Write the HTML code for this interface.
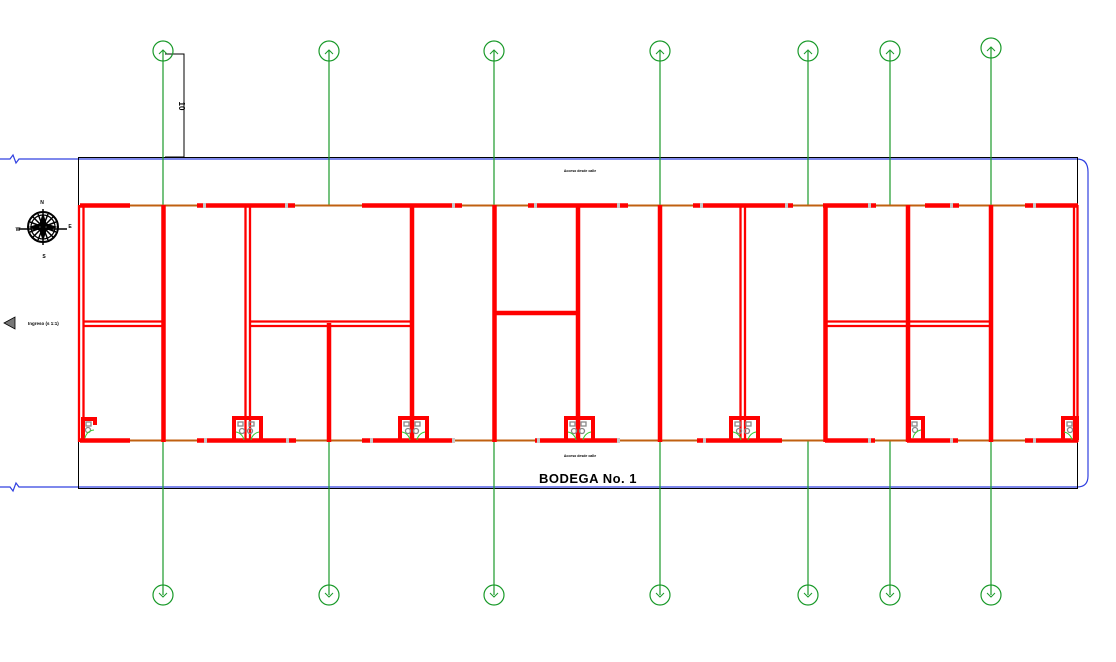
<!DOCTYPE html>
<html><head><meta charset="utf-8"><style>html,body{margin:0;padding:0;background:#fff}svg{display:block}</style></head>
<body>
<svg width="1116" height="662" viewBox="0 0 1116 662" xmlns="http://www.w3.org/2000/svg" font-family="Liberation Sans, sans-serif">
<path d="M0 159 H10 L13 155 L16 163 L19 159 H1077 Q1088 159 1088 172 V476 Q1088 487 1077 487 H19 L16 483 L13 491 L10 487 H0" fill="none" stroke="#3040e0" stroke-width="1.2"/>
<rect x="78.5" y="157.5" width="999" height="331" fill="none" stroke="#000" stroke-width="1"/>
<path d="M165 54 H184 V157 M165 157 H184" stroke="#000" stroke-width="1" fill="none"/>
<text x="0" y="0" font-size="8" font-weight="bold" transform="translate(179,106) rotate(90)" text-anchor="middle">10</text>
<g stroke="#1a9a2a" stroke-width="1.2" fill="none">
<path d="M163 51 V205 M163 440 V595"/><circle cx="163" cy="51" r="10"/><circle cx="163" cy="595" r="10"/>
<path d="M329 51 V205 M329 440 V595"/><circle cx="329" cy="51" r="10"/><circle cx="329" cy="595" r="10"/>
<path d="M494 51 V205 M494 440 V595"/><circle cx="494" cy="51" r="10"/><circle cx="494" cy="595" r="10"/>
<path d="M660 51 V205 M660 440 V595"/><circle cx="660" cy="51" r="10"/><circle cx="660" cy="595" r="10"/>
<path d="M808 51 V205 M808 440 V595"/><circle cx="808" cy="51" r="10"/><circle cx="808" cy="595" r="10"/>
<path d="M890 51 V205 M890 440 V595"/><circle cx="890" cy="51" r="10"/><circle cx="890" cy="595" r="10"/>
<path d="M991 48 V205 M991 440 V595"/><circle cx="991" cy="48" r="10"/><circle cx="991" cy="595" r="10"/>
</g>
<g stroke="#1a9a2a" stroke-width="1" fill="none">
<path d="M159 54 l4 -4 4 4 M325 54 l4 -4 4 4 M490 54 l4 -4 4 4 M656 54 l4 -4 4 4 M804 54 l4 -4 4 4 M886 54 l4 -4 4 4 M987 51 l4 -4 4 4"/>
<path d="M159 593 l4 4 4 -4 M325 593 l4 4 4 -4 M490 593 l4 4 4 -4 M656 593 l4 4 4 -4 M804 593 l4 4 4 -4 M886 593 l4 4 4 -4 M987 593 l4 4 4 -4"/>
</g>
<path d="M80 205.5 H1077 M80 440.5 H1077" stroke="#c06010" stroke-width="2"/>
<g stroke="#ff0000" stroke-width="4.5">
<path d="M80 205.5 H130 M197 205.5 H295 M362 205.5 H462 M528 205.5 H628 M693 205.5 H793 M823 205.5 H876 M925 205.5 H959 M1025 205.5 H1078"/>
<path d="M80 440.5 H130 M197 440.5 H296 M362 440.5 H452 M535 440.5 H620 M697 440.5 H782 M825 440.5 H875 M907 440.5 H958 M1025 440.5 H1078"/>
<path d="M163.5 205 V442 M412 205 V442 M329 323 V442 M494.5 205 V442 M578 205 V442 M660 205 V442 M825.5 205 V442 M908 205 V442 M991 205 V442 M494 313 H578"/>
</g>
<g fill="#c8c8c8">
<rect x="203" y="203" width="3" height="5"/><rect x="285" y="203" width="3" height="5"/><rect x="452" y="203" width="3" height="5"/><rect x="534" y="203" width="3" height="5"/><rect x="617" y="203" width="3" height="5"/><rect x="700" y="203" width="3" height="5"/><rect x="785" y="203" width="3" height="5"/><rect x="868" y="203" width="3" height="5"/><rect x="950" y="203" width="3" height="5"/><rect x="1033" y="203" width="3" height="5"/>
<rect x="204" y="438" width="3" height="5"/><rect x="286" y="438" width="3" height="5"/><rect x="370" y="438" width="3" height="5"/><rect x="452" y="438" width="3" height="5"/><rect x="537" y="438" width="3" height="5"/><rect x="617" y="438" width="3" height="5"/><rect x="703" y="438" width="3" height="5"/><rect x="868" y="438" width="3" height="5"/><rect x="950" y="438" width="3" height="5"/><rect x="1033" y="438" width="3" height="5"/>
</g>
<g stroke="#ff0000" stroke-width="2.3" fill="none">
<path d="M79 205 V442 M83.5 207 V442"/>
<path d="M245.5 207 V440 M250 207 V440"/>
<path d="M740.5 207 V440 M745 207 V440"/>
<path d="M1074 207 V442 M1077.5 205 V442"/>
<path d="M83 321.5 H163 M83 326 H163"/>
<path d="M249 321.5 H412 M249 326 H412"/>
<path d="M827 321.5 H991 M827 326 H991"/>
</g>
<g fill="none">
<g transform="translate(80,416)"><path d="M3 24 V3 H15 V9" stroke="#f00" stroke-width="4"/><rect x="6" y="6" width="5" height="4" stroke="#888" stroke-width="1.3"/><circle cx="8" cy="14" r="2.5" stroke="#888" stroke-width="1.3"/><path d="M5 22 A10 10 0 0 1 14 14" stroke="#3c3"/></g>
<g transform="translate(232,416)"><path d="M2 24 V2 H29 V24" stroke="#f00" stroke-width="4"/><rect x="6" y="6" width="5" height="4" stroke="#888" stroke-width="1.3"/><rect x="17" y="6" width="5" height="4" stroke="#888" stroke-width="1.3"/><circle cx="10" cy="15" r="2.5" stroke="#888" stroke-width="1.3"/><circle cx="18" cy="15" r="2.5" stroke="#888" stroke-width="1.3"/><path d="M4 16 A10 10 0 0 1 12 24 M27 16 A10 10 0 0 0 19 24" stroke="#3c3"/></g>
<g transform="translate(398,416)"><path d="M2 24 V2 H29 V24" stroke="#f00" stroke-width="4"/><rect x="6" y="6" width="5" height="4" stroke="#888" stroke-width="1.3"/><rect x="17" y="6" width="5" height="4" stroke="#888" stroke-width="1.3"/><circle cx="10" cy="15" r="2.5" stroke="#888" stroke-width="1.3"/><circle cx="18" cy="15" r="2.5" stroke="#888" stroke-width="1.3"/><path d="M4 16 A10 10 0 0 1 12 24 M27 16 A10 10 0 0 0 19 24" stroke="#3c3"/></g>
<g transform="translate(564,416)"><path d="M2 24 V2 H29 V24" stroke="#f00" stroke-width="4"/><rect x="6" y="6" width="5" height="4" stroke="#888" stroke-width="1.3"/><rect x="17" y="6" width="5" height="4" stroke="#888" stroke-width="1.3"/><circle cx="10" cy="15" r="2.5" stroke="#888" stroke-width="1.3"/><circle cx="18" cy="15" r="2.5" stroke="#888" stroke-width="1.3"/><path d="M4 16 A10 10 0 0 1 12 24 M27 16 A10 10 0 0 0 19 24" stroke="#3c3"/></g>
<g transform="translate(729,416)"><path d="M2 24 V2 H29 V24" stroke="#f00" stroke-width="4"/><rect x="6" y="6" width="5" height="4" stroke="#888" stroke-width="1.3"/><rect x="17" y="6" width="5" height="4" stroke="#888" stroke-width="1.3"/><circle cx="10" cy="15" r="2.5" stroke="#888" stroke-width="1.3"/><circle cx="18" cy="15" r="2.5" stroke="#888" stroke-width="1.3"/><path d="M4 16 A10 10 0 0 1 12 24 M27 16 A10 10 0 0 0 19 24" stroke="#3c3"/></g>
<g transform="translate(907,416)"><path d="M2 24 V2 H16 V24" stroke="#f00" stroke-width="4"/><rect x="5" y="6" width="5" height="4" stroke="#888" stroke-width="1.3"/><circle cx="8" cy="14" r="2.5" stroke="#888" stroke-width="1.3"/><path d="M6 22 A10 10 0 0 1 14 14" stroke="#3c3"/></g>
<g transform="translate(1061,416)"><path d="M2 24 V2 H16 V24" stroke="#f00" stroke-width="4"/><rect x="6" y="6" width="5" height="4" stroke="#888" stroke-width="1.3"/><circle cx="9" cy="14" r="2.5" stroke="#888" stroke-width="1.3"/><path d="M3 16 A10 10 0 0 1 11 24" stroke="#3c3"/></g>
</g>
<g transform="translate(43,227)" stroke="#000" fill="none">
<circle r="15" stroke-width="2"/><circle r="12" stroke-width="1.2"/>
<path d="M0 -18 V18 M-24 2 H24 M-11 -11 L11 11 M-11 11 L11 -11 M-5 -13 L5 13 M-13 -5 L13 5 M5 -13 L-5 13 M13 -5 L-13 5" stroke-width="1.5"/>
<path d="M0 -13 L4 0 L0 13 L-4 0Z M-13 0 L0 4 L13 0 L0 -4Z" fill="#000"/>
</g>
<g font-size="5" font-weight="bold" text-anchor="middle"><text x="42" y="204">N</text><text x="18" y="231">W</text><text x="70" y="228">E</text><text x="44" y="258">S</text></g>
<path d="M4 323 L15 317 V329Z" fill="#777" stroke="#000" stroke-width="0.8"/>
<text x="28" y="325" font-size="4.5" font-weight="bold">Ingreso (s 1:1)</text>
<text x="580" y="172" font-size="3.5" font-weight="bold" text-anchor="middle">Acceso desde calle</text>
<text x="580" y="457" font-size="3.5" font-weight="bold" text-anchor="middle">Acceso desde calle</text>
<text x="588" y="483" font-size="13" font-weight="bold" text-anchor="middle" letter-spacing="0.5">BODEGA No. 1</text>
</svg>
</body></html>
